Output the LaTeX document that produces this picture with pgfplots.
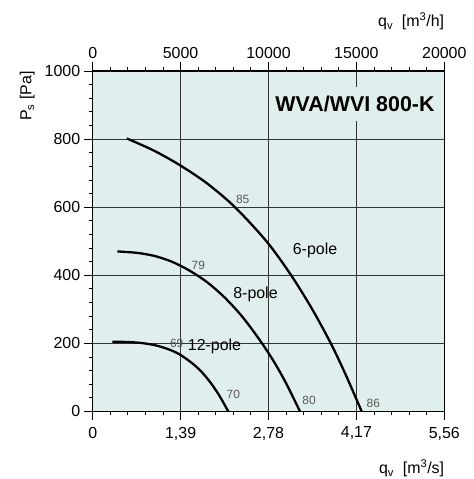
\documentclass[border=0pt]{standalone}
\usepackage{pgfplots}
\pgfplotsset{compat=1.18}
\usepackage{fontspec}
\setmainfont{Liberation Sans}
\definecolor{bgcol}{HTML}{E0EFED}
\newcommand{\tf}{\fontsize{16}{19}\selectfont}
\begin{document}
\begin{tikzpicture}[x=1bp,y=1bp]
\useasboundingbox (0,0) rectangle (474,479);
\begin{axis}[
  at={(92.7bp,67.5bp)}, anchor=south west,
  width=351.6bp, height=340.5bp, scale only axis,
  xmin=0, xmax=20000, ymin=0, ymax=1000,
  clip=false,
  axis background/.style={fill=bgcol},
  xtick={0,5000,10000,15000,20000},
  xticklabels={0,{1,39},{2,78},{4,17},{5,56}},
  ytick={0,200,400,600,800,1000},
  minor x tick num=4, minor y tick num=4,
  tick align=outside, xtick pos=bottom, ytick pos=left,
  grid=major, major grid style={black!80, line width=0.7bp},
  major tick length=9bp, minor tick length=4bp,
  every tick/.style={black, line width=0.9bp},
  axis line style={line width=1.3bp},
  xticklabel style={font=\tf, yshift=-3bp},
  yticklabel style={font=\tf, /pgf/number format/assume math mode=true, /pgf/number format/1000 sep={}},
  scaled ticks=false,
]
% 6-pole
\addplot[black, line width=2.3bp, smooth] coordinates {
 (1934,802) (3447,767) (4909,725) (6502,670) (8094,600) (9898,499)
 (11263,402) (12457,303) (13555,199) (14408,106) (15301,0)};
% 8-pole
\addplot[black, line width=2.3bp, smooth] coordinates {
 (1400,470) (2500,466) (3500,457) (4500,440) (5500,414) (6500,380)
 (7500,335) (8500,279) (9500,210) (10300,147) (11000,83) (11792,0)};
% 12-pole
\addplot[black, line width=2.3bp, smooth] coordinates {
 (1115,205) (2000,204) (2800,201) (3600,194) (4400,181) (5000,166)
 (5700,140) (6200,116) (6700,85) (7200,47) (7713,0)};
\node[font=\fontsize{21.5}{24}\selectfont\bfseries, fill=bgcol, inner ysep=9bp, inner xsep=5bp] at (axis cs:14920,903) {WVA/WVI 800-K};
\node[font=\tf] at (axis cs:12645,474) {6-pole};
\node[font=\tf] at (axis cs:9260,345) {8-pole};
\node[font=\tf] at (axis cs:6928,191) {12-pole};
\begin{scope}[every node/.style={font=\fontsize{12}{14}\selectfont, text=black!65, inner sep=0pt}]
\node at (axis cs:8532,624) {85};
\node at (axis cs:6007,428) {79};
\node at (axis cs:4778,201) {69};
\node at (axis cs:7998,51) {70};
\node at (axis cs:12304,32) {80};
\node at (axis cs:15961,24) {86};
\end{scope}
\node[font=\tf, rotate=90, anchor=south east, inner sep=0pt] at ([xshift=-57.7bp]rel axis cs:0,1) {P\textsubscript{s} [Pa]};
\node[font=\tf, anchor=base east, inner sep=0pt] at ([yshift=44bp]rel axis cs:1,1) {q\textsubscript{v}\ \ [m\textsuperscript{3}/h]};
\node[font=\tf, anchor=base east, inner sep=0pt] at ([yshift=-62bp]rel axis cs:1,0) {q\textsubscript{v}\ \ [m\textsuperscript{3}/s]};
\end{axis}
\begin{axis}[
  at={(92.7bp,67.5bp)}, anchor=south west,
  width=351.6bp, height=340.5bp, scale only axis,
  xmin=0, xmax=20000, ymin=0, ymax=1000,
  axis x line*=top, hide y axis,
  xtick={0,5000,10000,15000,20000},
  xticklabels={0,5000,10000,15000,20000},
  scaled ticks=false,
  minor x tick num=4,
  tick align=outside,
  major tick length=9bp, minor tick length=4bp,
  every tick/.style={black, line width=0.9bp},
  axis line style={line width=1.3bp},
  xticklabel style={font=\tf},
]
\end{axis}
\end{tikzpicture}
\end{document}
